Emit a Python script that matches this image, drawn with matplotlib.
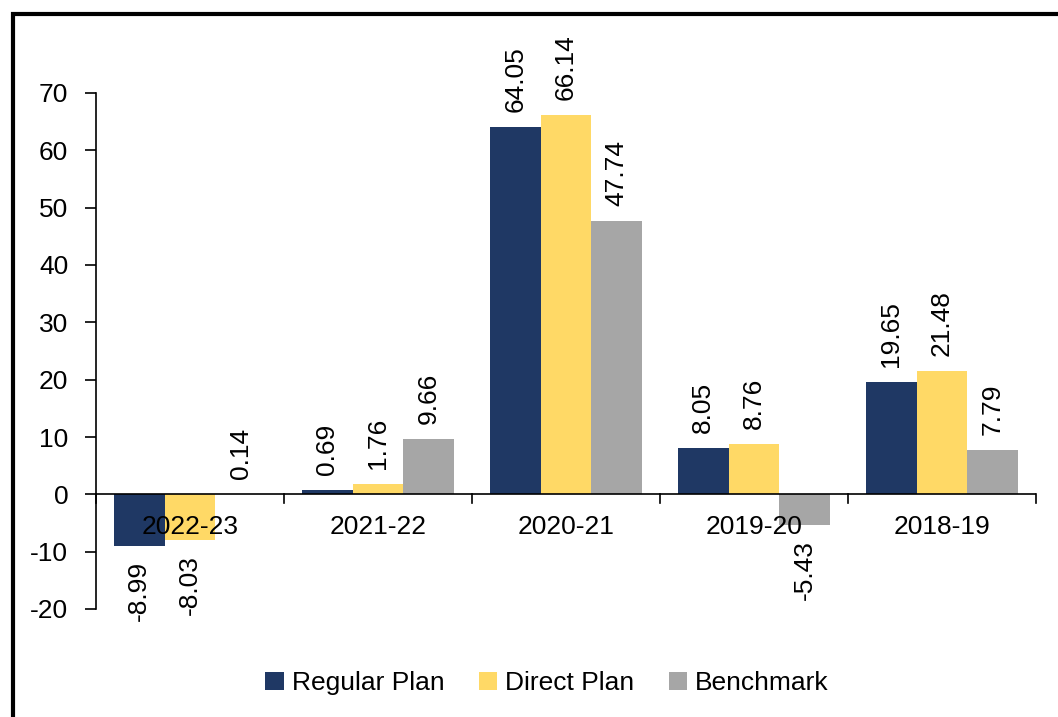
import matplotlib
matplotlib.use("Agg")
import matplotlib.pyplot as plt
import numpy as np
from matplotlib.patches import Rectangle

years = ["2022-23", "2021-22", "2020-21", "2019-20", "2018-19"]
regular = [-8.99, 0.69, 64.05, 8.05, 19.65]
direct = [-8.03, 1.76, 66.14, 8.76, 21.48]
bench = [0.14, 9.66, 47.74, -5.43, 7.79]
series = [("Regular Plan", regular, "#1F3864"),
          ("Direct Plan", direct, "#FFD966"),
          ("Benchmark", bench, "#A6A6A6")]

plt.rcParams["font.family"] = ["Liberation Sans", "DejaVu Sans"]
plt.rcParams["axes.unicode_minus"] = False
FS = 19

fig = plt.figure(figsize=(10.58, 7.17), dpi=100)
ax = fig.add_axes([96/1058, 1-609/717, 940/1058, 516/717])

x = np.arange(len(years))
w = 0.27
for i, (name, vals, col) in enumerate(series):
    pos = x + (i-1)*w
    ax.bar(pos, vals, w, color=col, label=name, zorder=2)
    for p, v in zip(pos, vals):
        if v >= 0:
            ax.text(p, v+2.6, f"{v:.2f}", rotation=90, ha="center", va="bottom", fontsize=FS)
        else:
            ax.text(p, v-2.6, f"{v:.2f}", rotation=90, ha="center", va="top", fontsize=FS)

ax.set_xlim(-0.5, len(years)-0.5)
ax.set_ylim(-20, 70)
ax.set_yticks(range(-20, 71, 10))
ax.tick_params(axis="y", labelsize=FS, length=8, width=1.2, direction="out", pad=12)
for s in ["top", "right", "bottom"]:
    ax.spines[s].set_visible(False)
ax.spines["left"].set_linewidth(1.2)
ax.axhline(0, color="black", lw=1.2, zorder=3)
ax.set_xticks([])
for b in np.arange(-0.5, len(years), 1.0):
    ax.plot([b, b], [0, -1.5], color="black", lw=1.2, clip_on=False, zorder=3)
for xi, yr in zip(x, years):
    ax.text(xi, -3.6, yr, ha="center", va="top", fontsize=FS, zorder=4)

fig.legend(loc="center", bbox_to_anchor=(547/1058, 1-683/717), ncol=3, frameon=False,
           fontsize=FS, handlelength=0.7, handleheight=0.7, columnspacing=1.3, handletextpad=0.3)

fig.patches.append(Rectangle((13/1058, -0.1), 1.2, 1-14/717+0.1, transform=fig.transFigure,
                             fill=False, edgecolor="black", lw=3, figure=fig))

fig.savefig("out.png", dpi=100)
